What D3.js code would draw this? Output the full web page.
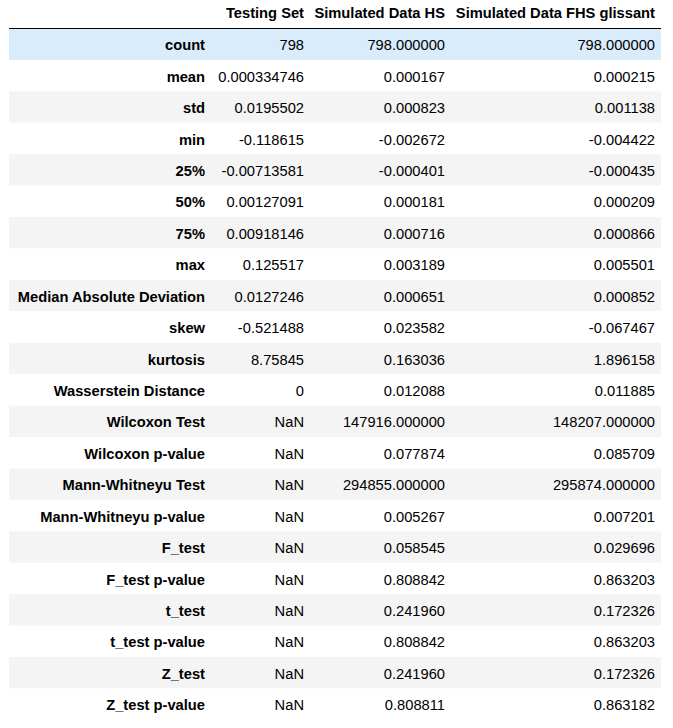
<!DOCTYPE html>
<html><head><meta charset="utf-8">
<script src="https://cdn.jsdelivr.net/npm/d3@7"></script>
<style>
html,body{margin:0;padding:0;background:#fff;}
svg text{font-family:"Liberation Sans",Arial,Helvetica,sans-serif;font-size:14.7px;fill:#000;}
</style></head><body>
<svg id="c" width="673" height="728"></svg>
<script>
const columns = ["Testing Set", "Simulated Data HS", "Simulated Data FHS glissant"];
const rowLabels = ["count","mean","std","min","25%","50%","75%","max","Median Absolute Deviation","skew","kurtosis","Wasserstein Distance","Wilcoxon Test","Wilcoxon p-value","Mann-Whitneyu Test","Mann-Whitneyu p-value","F_test","F_test p-value","t_test","t_test p-value","Z_test","Z_test p-value"];
const testingSet = ["798","0.000334746","0.0195502","-0.118615","-0.00713581","0.00127091","0.00918146","0.125517","0.0127246","-0.521488","8.75845","0","NaN","NaN","NaN","NaN","NaN","NaN","NaN","NaN","NaN","NaN"];
const simHS = ["798.000000","0.000167","0.000823","-0.002672","-0.000401","0.000181","0.000716","0.003189","0.000651","0.023582","0.163036","0.012088","147916.000000","0.077874","294855.000000","0.005267","0.058545","0.808842","0.241960","0.808842","0.241960","0.808811"];
const simFHS = ["798.000000","0.000215","0.001138","-0.004422","-0.000435","0.000209","0.000866","0.005501","0.000852","-0.067467","1.896158","0.011885","148207.000000","0.085709","295874.000000","0.007201","0.029696","0.863203","0.172326","0.863203","0.172326","0.863182"];

const svg = d3.select("#c");
const left = 9, right = 661;
const colEdges = [9, 211, 310, 451, 661];
const pad = 6;
const headerBottom = 28.5;
const y = d3.scaleBand().domain(rowLabels).range([headerBottom, headerBottom + 31.43*rowLabels.length]).padding(0);

svg.append("g").selectAll("rect").data(rowLabels).join("rect")
  .attr("x", left).attr("width", right - left)
  .attr("y", d => y(d)).attr("height", y.bandwidth())
  .attr("fill", (d,i) => i === 0 ? "rgb(217,236,251)" : (i % 2 === 0 ? "#f4f4f4" : "#fff"));

svg.append("line").attr("x1", left).attr("x2", right).attr("y1", headerBottom).attr("y2", headerBottom)
  .attr("stroke", "#000").attr("stroke-width", 1.2);

svg.append("g").selectAll("text").data(columns).join("text")
  .attr("x", (d,i) => colEdges[i+2] - pad).attr("y", 17.5)
  .attr("text-anchor", "end").attr("font-weight", "bold").text(d => d);

svg.append("g").selectAll("text").data(rowLabels).join("text")
  .attr("x", colEdges[1] - pad).attr("y", d => y(d) + y.bandwidth()/2 + 6)
  .attr("text-anchor", "end").attr("font-weight", "bold").text(d => d);

const series = [testingSet, simHS, simFHS];
series.forEach((vals, c) => {
  svg.append("g").selectAll("text").data(vals).join("text")
    .attr("x", colEdges[c+2] - pad).attr("y", (d,i) => y(rowLabels[i]) + y.bandwidth()/2 + 6)
    .attr("text-anchor", "end").text(d => d);
});
</script></body></html>
